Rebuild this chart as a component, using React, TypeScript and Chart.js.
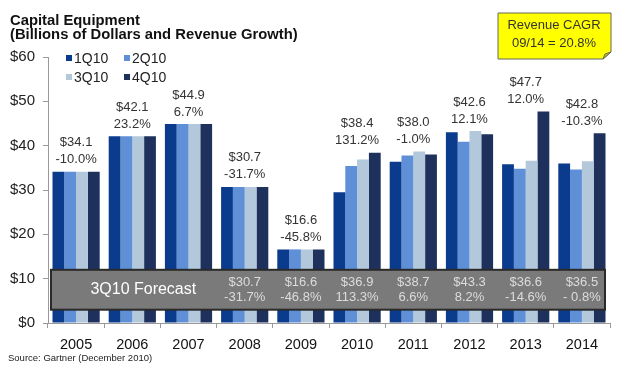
import React, { useEffect, useRef } from "react";
import { Chart, registerables } from "chart.js";

Chart.register(...registerables);

const years = ["2005", "2006", "2007", "2008", "2009", "2010", "2011", "2012", "2013", "2014"];
const seriesNames = ["1Q10", "2Q10", "3Q10", "4Q10"];
const q1 = [34.1, 42.1, 44.9, 30.7, 16.6, 29.5, 36.4, 43.0, 35.8, 36.0];
const q2 = [34.1, 42.1, 44.9, 30.7, 16.6, 35.4, 37.8, 40.9, 34.8, 34.6];
const q3 = [34.1, 42.1, 44.9, 30.7, 16.6, 36.9, 38.7, 43.3, 36.6, 36.5];
const q4 = [34.1, 42.1, 44.9, 30.7, 16.6, 38.4, 38.0, 42.6, 47.7, 42.8];
const topValues = ["$34.1", "$42.1", "$44.9", "$30.7", "$16.6", "$38.4", "$38.0", "$42.6", "$47.7", "$42.8"];
const topGrowth = ["-10.0%", "23.2%", "6.7%", "-31.7%", "-45.8%", "131.2%", "-1.0%", "12.1%", "12.0%", "-10.3%"];
const forecastValues = ["", "", "", "$30.7", "$16.6", "$36.9", "$38.7", "$43.3", "$36.6", "$36.5"];
const forecastGrowth = ["", "", "", "-31.7%", "-46.8%", "113.3%", "6.6%", "8.2%", "-14.6%", "- 0.8%"];
const yTicks = [0, 10, 20, 30, 40, 50, 60];

const FONT = "'Liberation Sans', Arial, sans-serif";
const colors = ["#0b3b8c", "#5f8fd6", "#b3c8da", "#1e315d"];

const overlayPlugin = {
  id: "overlay",
  afterDatasetsDraw(chart: any) {
    const { ctx, chartArea } = chart;
    const x = chart.scales.x;
    const y = chart.scales.y;
    ctx.save();

    // Title
    ctx.fillStyle = "#111";
    ctx.font = `bold 14.8px ${FONT}`;
    ctx.textAlign = "left";
    ctx.textBaseline = "alphabetic";
    ctx.fillText("Capital Equipment", 10, 25);
    ctx.fillText("(Billions of Dollars and Revenue Growth)", 10, 39);

    // Legend
    const legendPos = [
      [66, 58],
      [124, 58],
      [66, 77],
      [124, 77],
    ];
    ctx.font = `14px ${FONT}`;
    ctx.textBaseline = "middle";
    seriesNames.forEach((name, i) => {
      const [lx, ly] = legendPos[i];
      ctx.fillStyle = colors[i];
      ctx.fillRect(lx, ly - 3, 6, 6);
      ctx.fillStyle = "#222";
      ctx.fillText(name, lx + 8, ly + 1);
    });

    // CAGR box
    ctx.beginPath();
    ctx.moveTo(498, 13);
    ctx.lineTo(611, 13);
    ctx.lineTo(611, 52);
    ctx.lineTo(603, 59);
    ctx.lineTo(498, 59);
    ctx.closePath();
    ctx.fillStyle = "#ffff00";
    ctx.fill();
    ctx.strokeStyle = "#666";
    ctx.lineWidth = 1;
    ctx.stroke();
    ctx.beginPath();
    ctx.moveTo(603, 59);
    ctx.lineTo(605, 54);
    ctx.lineTo(611, 52);
    ctx.closePath();
    ctx.fillStyle = "#c8c800";
    ctx.fill();
    ctx.stroke();
    ctx.fillStyle = "#333";
    ctx.font = `13px ${FONT}`;
    ctx.textAlign = "center";
    ctx.fillText("Revenue CAGR", 554, 25);
    ctx.fillText("09/14 = 20.8%", 554, 43);

    // Top labels
    ctx.fillStyle = "#333";
    ctx.font = `13px ${FONT}`;
    years.forEach((_, i) => {
      const cx = x.getPixelForValue(i);
      const maxV = Math.max(q1[i], q2[i], q3[i], q4[i]);
      const top = y.getPixelForValue(maxV);
      ctx.fillText(topValues[i], cx, top - 29);
      ctx.fillText(topGrowth[i], cx, top - 12);
    });

    // Forecast band
    const bTop = y.getPixelForValue(12);
    const bBot = y.getPixelForValue(3);
    const bLeft = chartArea.left + 3;
    const bRight = chartArea.right - 5;
    ctx.fillStyle = "#7a7a7a";
    ctx.fillRect(bLeft, bTop, bRight - bLeft, bBot - bTop);
    ctx.strokeStyle = "#2a2a2a";
    ctx.lineWidth = 2;
    ctx.strokeRect(bLeft, bTop, bRight - bLeft, bBot - bTop);

    const bMid = (bTop + bBot) / 2;
    ctx.fillStyle = "#ffffff";
    ctx.font = `16px ${FONT}`;
    ctx.fillText("3Q10 Forecast", x.getPixelForValue(1) + 11, bMid);

    ctx.fillStyle = "#dcdcdc";
    ctx.font = `13px ${FONT}`;
    years.forEach((_, i) => {
      if (!forecastValues[i]) return;
      const cx = x.getPixelForValue(i);
      ctx.fillText(forecastValues[i], cx, bMid - 7);
      ctx.fillText(forecastGrowth[i], cx, bMid + 8);
    });

    // Source
    ctx.fillStyle = "#222";
    ctx.font = `9.5px ${FONT}`;
    ctx.textAlign = "left";
    ctx.fillText("Source: Gartner (December 2010)", 8, 358);

    ctx.restore();
  },
};

export default function App() {
  const ref = useRef<HTMLCanvasElement | null>(null);

  useEffect(() => {
    if (!ref.current) return;
    const chart = new Chart(ref.current, {
      type: "bar",
      data: {
        labels: years,
        datasets: [q1, q2, q3, q4].map((d, i) => ({
          label: seriesNames[i],
          data: d,
          backgroundColor: colors[i],
          borderWidth: 0,
          categoryPercentage: 0.84,
          barPercentage: 1.0,
        })),
      },
      options: {
        responsive: false,
        animation: false,
        layout: { padding: { top: 57, right: 10, left: 0, bottom: 0 } },
        plugins: {
          legend: { display: false },
          title: { display: false },
          tooltip: { enabled: false },
        },
        scales: {
          x: {
            grid: {
              drawOnChartArea: false,
              drawTicks: true,
              tickLength: 5,
              color: "#999",
              offset: true,
            },
            border: { color: "#999", width: 1 },
            ticks: {
              color: "#111",
              font: { family: FONT, size: 14.5 },
              padding: 8,
              maxRotation: 0,
            },
            afterFit: (s: any) => {
              s.height = 44;
            },
          },
          y: {
            min: 0,
            max: 60,
            afterBuildTicks: (s: any) => {
              s.ticks = yTicks.map((v) => ({ value: v }));
            },
            grid: {
              drawOnChartArea: false,
              drawTicks: true,
              tickLength: 5,
              color: "#999",
            },
            border: { color: "#999", width: 1 },
            ticks: {
              color: "#222",
              font: { family: FONT, size: 15 },
              padding: 8,
              callback: (v: any) => "$" + v,
            },
            afterFit: (s: any) => {
              s.width = 48;
            },
          },
        },
      },
      plugins: [overlayPlugin],
    });
    return () => chart.destroy();
  }, []);

  return (
    <div style={{ position: "absolute", left: 0, top: 0, width: 620, height: 367, background: "#fff" }}>
      <canvas ref={ref} width={620} height={367} style={{ width: 620, height: 367 }} />
    </div>
  );
}
